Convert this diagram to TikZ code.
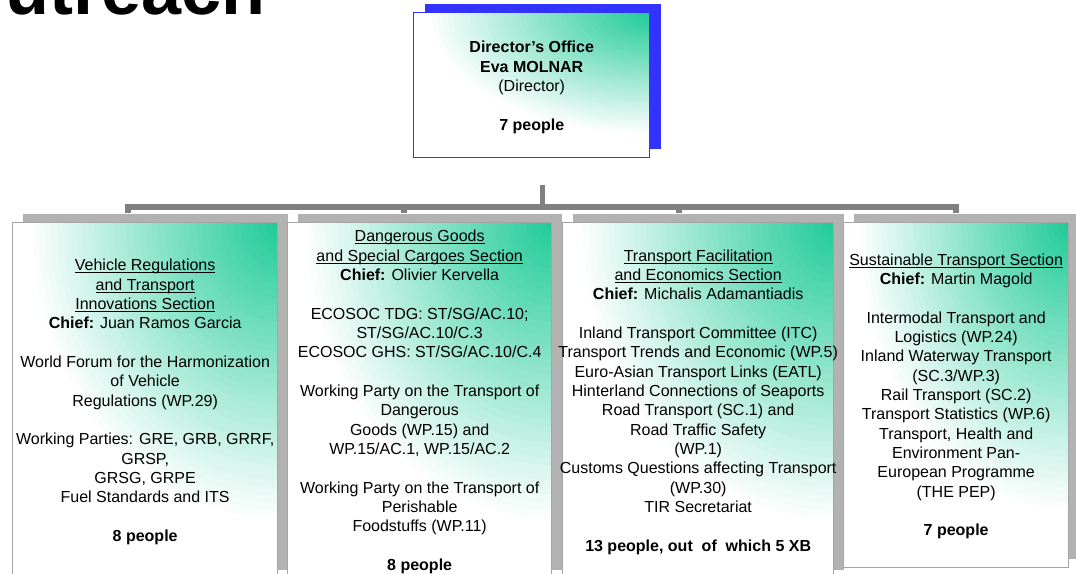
\documentclass[tikz,border=0pt]{standalone}
\usepackage{fontspec}
\setmainfont{Liberation Sans}
\usepackage{tikz}
\usetikzlibrary{positioning, calc, shadows}
\definecolor{secGreen}{RGB}{30, 202, 150}
\definecolor{colorShadow}{RGB}{178, 178, 178}
\definecolor{colorBus}{RGB}{128, 128, 128}
\definecolor{colorDir}{RGB}{51, 51, 255}
\definecolor{colorLine}{RGB}{165, 165, 165}
\tikzstyle{greenfill} = [fill=white, path picture={
	\foreach \i [evaluate=\i as \pct using \i*2.5, evaluate=\i as \fac using 1-\i/40] in {0,...,39}
		\fill[secGreen!\pct!white] let \p1 = ($(path picture bounding box.north east)-(path picture bounding box.south west)$) in
			(path picture bounding box.north east) ellipse [x radius={\fac*0.95*\x1}, y radius={\fac*0.85*\y1}];
	}]
\tikzstyle{dirbox} = [rectangle, greenfill, anchor=north west, inner sep=0pt, draw=colorDir, line width=1.1pt, minimum width=177pt, minimum height=108.75pt, drop shadow={shadow xshift=8.25pt, shadow yshift=6.75pt, fill=colorDir, opacity=1}]
\tikzstyle{secbox} = [rectangle, greenfill, anchor=north west, inner sep=0pt, draw=colorLine, line width=1pt, minimum height=267pt, drop shadow={shadow xshift=7.5pt, shadow yshift=6.75pt, fill=colorShadow, opacity=1}]
\tikzstyle{boxtext} = [align=center, inner sep=0pt, font=\fontsize{12}{14.5}\selectfont]
\tikzstyle{bus} = [draw=colorBus, line width=4pt]
\newcommand{\secname}[1]{\underline{\smash{#1}}}

\begin{document}
\begin{tikzpicture}[x=0.75pt, y=-0.75pt]

	\useasboundingbox (0,0) rectangle (1076,574);

	% title, cut off by the page
	\node (title)[anchor=base west, inner sep=0pt, font=\fontsize{54}{60}\selectfont\bfseries] at (5,15) {utreach};

	% director
	\node (dir)[dirbox] at (413,12) {};
	\node (dirText)[boxtext, yshift=-1.5pt] at (dir.center) {\textbf{Director’s Office}\\ \textbf{Eva MOLNAR}\\ (Director)\\[14.5pt] \textbf{7 people}};

	% lines
	\coordinate (stemTop) at ($(dir.south)+(11,27)$);
	\coordinate (bus1) at (128,207);
	\coordinate (bus2) at (404,207);
	\coordinate (bus3) at (679,207);
	\coordinate (bus4) at (956,207);
	\coordinate (drop1) at (128,213);
	\coordinate (drop2) at (404,213);
	\coordinate (drop3) at (679,213);
	\coordinate (drop4) at (956,213);

	\draw[bus] (stemTop) -- (stemTop |- bus1);
	\draw[bus] (drop1) |- (bus4) -- (drop4);
	\draw[bus] (bus2) -- (drop2);
	\draw[bus] (bus3) -- (drop3);

	% sections
	\node (secVeh)[secbox, minimum width=198.75pt] at (12,222) {};
	\node (secDang)[secbox, minimum width=198pt] at (287,222) {};
	\node (secFac)[secbox, minimum width=203.25pt] at (562,222) {};
	\node (secSus)[secbox, minimum width=168.75pt, minimum height=258.75pt] at (843,222) {};

	\node (txtVeh)[boxtext, yshift=-5.25pt] at (secVeh.center) {\secname{Vehicle Regulations}\\ \secname{and Transport}\\ \secname{Innovations Section}\\ \textbf{Chief:} Juan Ramos Garcia\\[14.5pt]
		World Forum for the Harmonization\\ of Vehicle\\ Regulations (WP.29)\\[14.5pt]
		Working Parties: GRE, GRB, GRRF,\\ GRSP,\\ GRSG, GRPE\\ Fuel Standards and ITS\\[14.5pt]
		\textbf{8 people}};

	\node (txtDang)[boxtext, yshift=-5.25pt] at (secDang.center) {\secname{Dangerous Goods}\\ \secname{and Special Cargoes Section}\\ \textbf{Chief:} Olivier Kervella\\[14.5pt]
		ECOSOC TDG: ST/SG/AC.10;\\ ST/SG/AC.10/C.3\\ ECOSOC GHS: ST/SG/AC.10/C.4\\[14.5pt]
		Working Party on the Transport of\\ Dangerous\\ Goods (WP.15) and\\ WP.15/AC.1, WP.15/AC.2\\[14.5pt]
		Working Party on the Transport of\\ Perishable\\ Foodstuffs (WP.11)\\[14.5pt]
		\textbf{8 people}};

	\node (txtFac)[boxtext, yshift=-5.25pt] at (secFac.center) {\secname{Transport Facilitation}\\ \secname{and Economics Section}\\ \textbf{Chief:} Michalis Adamantiadis\\[14.5pt]
		Inland Transport Committee (ITC)\\ Transport Trends and Economic (WP.5)\\ Euro-Asian Transport Links (EATL)\\ Hinterland Connections of Seaports\\
		Road Transport (SC.1) and\\ Road Traffic Safety\\ (WP.1)\\ Customs Questions affecting Transport\\ (WP.30)\\ TIR Secretariat\\[14.5pt]
		\textbf{13 people, out\ \ of\ \ which 5 XB}};

	\node (txtSus)[boxtext, yshift=-5.25pt] at (secSus.center) {\secname{Sustainable Transport Section}\\ \textbf{Chief:} Martin Magold\\[14.5pt]
		Intermodal Transport and\\ Logistics (WP.24)\\ Inland Waterway Transport\\ (SC.3/WP.3)\\ Rail Transport (SC.2)\\ Transport Statistics (WP.6)\\
		Transport, Health and\\ Environment Pan-\\ European Programme\\ (THE PEP)\\[14.5pt]
		\textbf{7 people}};

\end{tikzpicture}
\end{document}
